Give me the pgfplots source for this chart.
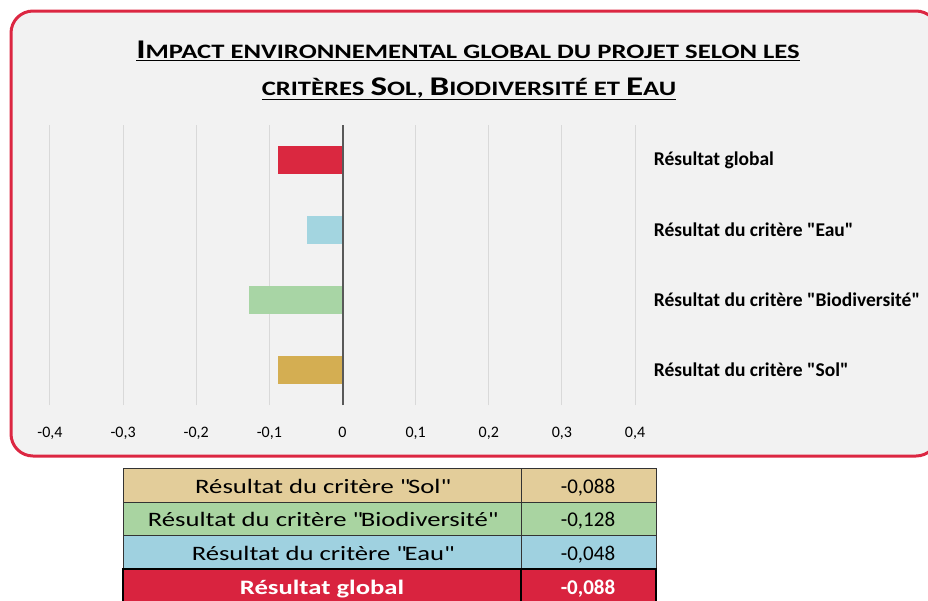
\documentclass[border=0pt]{standalone}
\usepackage{fontspec}
\setmainfont{Carlito}
\newfontfamily\wide{Carlito}[FakeStretch=1.3]
\usepackage{pgfplots}
\pgfplotsset{compat=1.18}
\definecolor{cadre}{HTML}{DC2742}
\definecolor{fond}{HTML}{F2F2F2}
\definecolor{grille}{HTML}{D9D9D9}
\definecolor{axe}{HTML}{595959}
\definecolor{cGlobal}{HTML}{DA2840}
\definecolor{cEau}{HTML}{A3D5E0}
\definecolor{cBio}{HTML}{A8D5A5}
\definecolor{cSol}{HTML}{D4AE52}
\definecolor{tSol}{HTML}{E3CD9A}
\definecolor{tBio}{HTML}{A9D4A1}
\definecolor{tEau}{HTML}{9FD1E0}
\definecolor{tGlobal}{HTML}{D9233F}

% fausses petites capitales
\newcommand\grand[1]{{\fontsize{27}{27}\selectfont #1}}
\newcommand\petit[1]{{\fontsize{20.5}{21}\selectfont #1}}
\newcommand\q{\textquotedbl}

\begin{document}
\begin{tikzpicture}
\useasboundingbox (0pt,0pt) rectangle (928pt,-600pt);
\clip (0pt,0pt) rectangle (928pt,-600pt);
\draw[cadre, line width=3pt, fill=fond, rounded corners=22pt] (11pt,-11pt) rectangle (938pt,-456pt);

\node[font=\wide\bfseries, inner sep=0pt] at (468pt,-51pt)
  {\underline{\grand{I}\petit{MPACT ENVIRONNEMENTAL GLOBAL DU PROJET SELON LES}}};
\node[font=\wide\bfseries, inner sep=0pt] at (469pt,-89pt)
  {\underline{\petit{CRITÈRES }\grand{S}\petit{OL, }\grand{B}\petit{IODIVERSITÉ ET }\grand{E}\petit{AU}}};

\begin{axis}[
    at={(50pt,-405pt)}, anchor=south west,
    scale only axis, width=585pt, height=280pt,
    xmin=-0.4, xmax=0.4, ymin=-0.5, ymax=3.5,
    xbar, bar width=28pt,
    xtick={-0.4,-0.3,-0.2,-0.1,0,0.1,0.2,0.3,0.4},
    xticklabel style={font=\fontsize{16}{16}\selectfont, yshift=-19pt},
    /pgf/number format/assume math mode=true,
    /pgf/number format/use comma,
    xmajorgrids, grid style={grille, line width=1pt},
    ytick={0,1,2,3},
    yticklabels={Résultat du critère \q Sol\q,Résultat du critère \q Biodiversité\q,Résultat du critère \q Eau\q,Résultat global},
    yticklabel pos=right,
    yticklabel style={font=\fontsize{19.5}{19.5}\bfseries\selectfont, anchor=west, xshift=11pt},
    axis line style={draw=none}, tick style={draw=none},
]
\addplot[fill=cSol, draw=none, bar shift=0pt] coordinates {(-0.088,0)};
\addplot[fill=cBio, draw=none, bar shift=0pt] coordinates {(-0.128,1)};
\addplot[fill=cEau, draw=none, bar shift=0pt] coordinates {(-0.048,2)};
\addplot[fill=cGlobal, draw=none, bar shift=0pt] coordinates {(-0.088,3)};
\draw[axe, line width=2pt] (axis cs:0,-0.5) -- (axis cs:0,3.5);
\end{axis}

% tableau
\fill[tSol] (123pt,-468pt) rectangle (656pt,-502pt);
\fill[tBio] (123pt,-502pt) rectangle (656pt,-535.5pt);
\fill[tEau] (123pt,-535.5pt) rectangle (656pt,-569pt);
\fill[tGlobal] (123pt,-569pt) rectangle (656pt,-610pt);
\draw[black!80, line width=0.9pt] (123pt,-569pt) -- (123pt,-468pt) -- (656pt,-468pt) -- (656pt,-569pt)
  (123pt,-502pt) -- (656pt,-502pt) (123pt,-535.5pt) -- (656pt,-535.5pt) (521pt,-468pt) -- (521pt,-569pt);
\draw[black, line width=2.5pt] (123pt,-610pt) -- (123pt,-569pt) -- (656pt,-569pt) -- (656pt,-610pt)
  (521pt,-569pt) -- (521pt,-610pt);
\begin{scope}[every node/.style={font=\wide\fontsize{20.5}{20.5}\selectfont, inner sep=0pt, anchor=base}]
\node at (322pt,-493pt) {Résultat du critère \q Sol\q};
\node at (322pt,-526.5pt) {Résultat du critère \q Biodiversité\q};
\node at (322pt,-560pt) {Résultat du critère \q Eau\q};
\node[white, font=\wide\fontsize{20.5}{20.5}\bfseries\selectfont] at (322pt,-594pt) {Résultat global};
\node[font=\fontsize{21}{21}\selectfont] at (588pt,-493pt) {-0,088};
\node[font=\fontsize{21}{21}\selectfont] at (588pt,-526.5pt) {-0,128};
\node[font=\fontsize{21}{21}\selectfont] at (588pt,-560pt) {-0,048};
\node[white, font=\fontsize{21}{21}\bfseries\selectfont] at (588pt,-594pt) {-0,088};
\end{scope}
\end{tikzpicture}
\end{document}
